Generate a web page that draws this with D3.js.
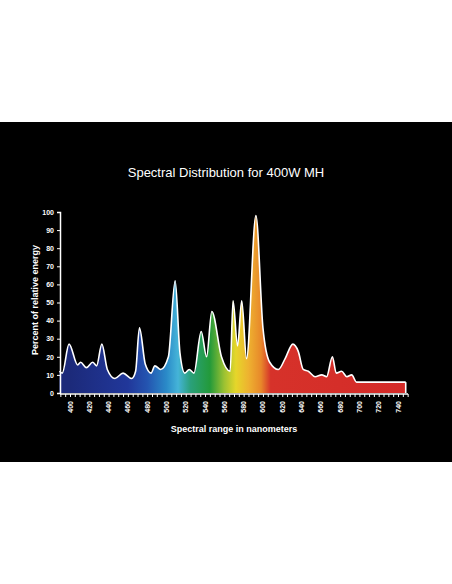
<!DOCTYPE html>
<html><head><meta charset="utf-8">
<script src="https://cdn.jsdelivr.net/npm/d3@7"></script>
<style>body{margin:0;background:#fff}</style>
</head><body><div id="chart"></div>
<script>
// wavelength (nm) and relative energy (%)
var wavelengths = [389,392,399,408,411,417,423.5,427.6,433,438.7,446.6,455,464,468,472,478,484,488,494,502,509,514,519,523.6,528.5,536,541.6,547,557,566,569,573.7,578,583,592.7,600,607,616,623,631,636.6,641.8,647,654,661,666,672,676,681.5,687,692,697,720,748];
var energy = [12,11,27,15.5,17,14,17,15,27,13,8,11,8,12,36,16,11,15,13,20,62,22,11,13,11,34,20,45,20,12,51,26,51,19,98,36,17,13,19,27,23,13,12,9,10,9,20,11,12,9,10,6,6,6];
var xTicks = d3.range(400, 741, 20);
var yTicks = d3.range(0, 101, 10);
var spectrumStops = [
  [400, "#1c2a7a"], [460, "#21379a"], [480, "#2454b0"], [500, "#2a8ac8"], [512, "#45b4d8"],
  [525, "#2aa07a"], [545, "#239a3a"], [560, "#9dc232"], [572, "#e6d62a"], [585, "#eeb230"],
  [598, "#e8882a"], [608, "#d6322a"], [750, "#d42a28"]
];

var W = 452, H = 584;
var svg = d3.select("#chart").append("svg").attr("width", W).attr("height", H)
  .style("font-family", "Liberation Sans, Arial, sans-serif");
svg.append("rect").attr("x", 0).attr("y", 122).attr("width", W).attr("height", 340).attr("fill", "#000");

var x = d3.scaleLinear().domain([400, 740]).range([70, 398]);
var y = d3.scaleLinear().domain([0, 100]).range([393, 212]);

var grad = svg.append("defs").append("linearGradient").attr("id", "spec")
  .attr("gradientUnits", "userSpaceOnUse").attr("x1", x(400)).attr("x2", x(750)).attr("y1", 0).attr("y2", 0);
spectrumStops.forEach(function(s) {
  grad.append("stop").attr("offset", (s[0] - 400) / 350).attr("stop-color", s[1]);
});

var data = wavelengths.map(function(w, i) { return [w, energy[i]]; });
var area = d3.area().x(function(d) { return x(d[0]); }).y0(y(0)).y1(function(d) { return y(d[1]); })
  .curve(d3.curveMonotoneX);
var line = d3.line().x(function(d) { return x(d[0]); }).y(function(d) { return y(d[1]); })
  .curve(d3.curveMonotoneX);
svg.append("path").datum(data).attr("d", area).attr("fill", "url(#spec)");
svg.append("path").datum(data).attr("d", line).attr("fill", "none").attr("stroke", "#fff").attr("stroke-width", 1.6);
// right edge of the fill
svg.append("line").attr("x1", x(748)).attr("x2", x(748)).attr("y1", y(6)).attr("y2", y(0))
  .attr("stroke", "#fff").attr("stroke-width", 1.6);

// y axis
var ya = svg.append("g").attr("transform", "translate(60,0)")
  .call(d3.axisLeft(y).tickValues(yTicks).tickSize(3));
ya.select(".domain").attr("stroke", "#fff").attr("stroke-width", 1.5);
ya.selectAll("line").attr("stroke", "#fff");
ya.selectAll("text").attr("fill", "#fff").style("font-size", "7px").style("font-weight", "bold");

// x axis with minor ticks
var xa = svg.append("g").attr("transform", "translate(0,394)")
  .call(d3.axisBottom(x).tickValues(d3.range(390, 751, 5)).tickSize(3).tickFormat(""));
xa.select(".domain").attr("d", "M60,0H408").attr("stroke", "#fff").attr("stroke-width", 1.5);
xa.selectAll("line").attr("stroke", "#fff");
xa.selectAll("text").remove();
svg.append("g").selectAll("text").data(xTicks).enter().append("text")
  .attr("transform", function(d) { return "translate(" + (x(d) + 2.5) + ",401)rotate(-90)"; })
  .attr("text-anchor", "end").attr("fill", "#fff").style("font-size", "7px").style("font-weight", "bold")
  .text(function(d) { return d; });

svg.append("text").attr("x", 226).attr("y", 177).attr("text-anchor", "middle").attr("fill", "#fff")
  .style("font-size", "13px").text("Spectral Distribution for 400W MH");
svg.append("text").attr("x", 234).attr("y", 432).attr("text-anchor", "middle").attr("fill", "#fff")
  .style("font-size", "9px").style("font-weight", "bold").text("Spectral range in nanometers");
svg.append("text").attr("transform", "translate(38,300)rotate(-90)").attr("text-anchor", "middle")
  .attr("fill", "#fff").style("font-size", "9px").style("font-weight", "bold").text("Percent of relative energy");
</script></body></html>
